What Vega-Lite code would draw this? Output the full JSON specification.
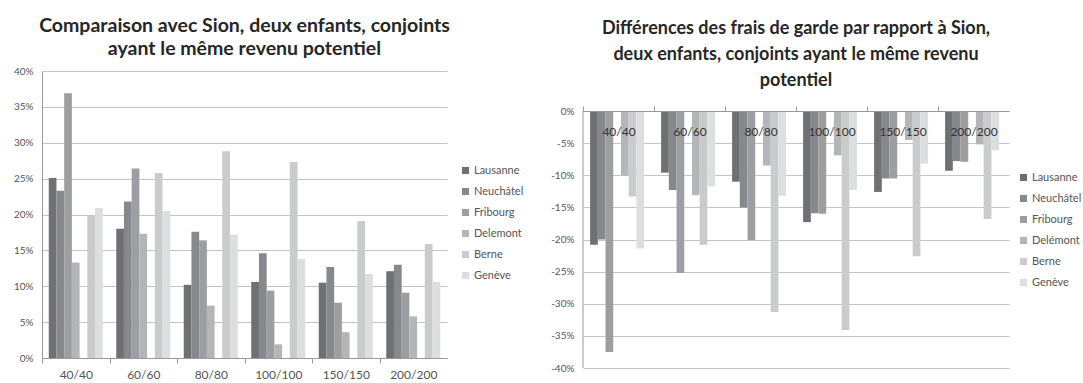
{
  "$schema": "https://vega.github.io/schema/vega-lite/v6.json",
  "background": "white",
  "padding": {"left": 5, "top": 15, "right": 0, "bottom": 0},
  "config": {
    "font": "Lato",
    "view": {"stroke": null},
    "concat": {"spacing": 19},
    "axis": {"labelFont": "Lato", "labelColor": "#555555", "domainColor": "#9a9a9a", "tickColor": "#9a9a9a", "gridColor": "#c4c4c4"},
    "legend": {"labelFont": "Lato", "labelFontSize": 11, "labelColor": "#555555", "symbolType": "square", "symbolSize": 50, "symbolStrokeWidth": 0, "rowPadding": 9, "labelOffset": 3},
    "title": {"font": "Lato", "fontWeight": "bold", "color": "#262626", "frame": "group", "anchor": "middle"}
  },
  "datasets": {
    "comparaison": [
      {"cat": "40/40", "city": "Lausanne", "v": 25.1}, {"cat": "40/40", "city": "Neuchâtel", "v": 23.3}, {"cat": "40/40", "city": "Fribourg", "v": 36.9}, {"cat": "40/40", "city": "Delemont", "v": 13.3}, {"cat": "40/40", "city": "Berne", "v": 19.8}, {"cat": "40/40", "city": "Genève", "v": 20.9},
      {"cat": "60/60", "city": "Lausanne", "v": 18.0}, {"cat": "60/60", "city": "Neuchâtel", "v": 21.8}, {"cat": "60/60", "city": "Fribourg", "v": 26.4}, {"cat": "60/60", "city": "Delemont", "v": 17.3}, {"cat": "60/60", "city": "Berne", "v": 25.8}, {"cat": "60/60", "city": "Genève", "v": 20.5},
      {"cat": "80/80", "city": "Lausanne", "v": 10.2}, {"cat": "80/80", "city": "Neuchâtel", "v": 17.6}, {"cat": "80/80", "city": "Fribourg", "v": 16.4}, {"cat": "80/80", "city": "Delemont", "v": 7.3}, {"cat": "80/80", "city": "Berne", "v": 28.8}, {"cat": "80/80", "city": "Genève", "v": 17.2},
      {"cat": "100/100", "city": "Lausanne", "v": 10.6}, {"cat": "100/100", "city": "Neuchâtel", "v": 14.6}, {"cat": "100/100", "city": "Fribourg", "v": 9.4}, {"cat": "100/100", "city": "Delemont", "v": 1.9}, {"cat": "100/100", "city": "Berne", "v": 27.3}, {"cat": "100/100", "city": "Genève", "v": 13.8},
      {"cat": "150/150", "city": "Lausanne", "v": 10.5}, {"cat": "150/150", "city": "Neuchâtel", "v": 12.7}, {"cat": "150/150", "city": "Fribourg", "v": 7.7}, {"cat": "150/150", "city": "Delemont", "v": 3.6}, {"cat": "150/150", "city": "Berne", "v": 19.1}, {"cat": "150/150", "city": "Genève", "v": 11.7},
      {"cat": "200/200", "city": "Lausanne", "v": 12.1}, {"cat": "200/200", "city": "Neuchâtel", "v": 13.0}, {"cat": "200/200", "city": "Fribourg", "v": 9.1}, {"cat": "200/200", "city": "Delemont", "v": 5.8}, {"cat": "200/200", "city": "Berne", "v": 15.9}, {"cat": "200/200", "city": "Genève", "v": 10.6}
    ],
    "differences": [
      {"cat": "40/40", "city": "Lausanne", "v": -20.8}, {"cat": "40/40", "city": "Neuchâtel", "v": -20.0}, {"cat": "40/40", "city": "Fribourg", "v": -37.5}, {"cat": "40/40", "city": "Delémont", "v": -10.0}, {"cat": "40/40", "city": "Berne", "v": -13.3}, {"cat": "40/40", "city": "Genève", "v": -21.4},
      {"cat": "60/60", "city": "Lausanne", "v": -9.6}, {"cat": "60/60", "city": "Neuchâtel", "v": -12.3}, {"cat": "60/60", "city": "Fribourg", "v": -25.2}, {"cat": "60/60", "city": "Delémont", "v": -13.1}, {"cat": "60/60", "city": "Berne", "v": -20.8}, {"cat": "60/60", "city": "Genève", "v": -11.7},
      {"cat": "80/80", "city": "Lausanne", "v": -11.0}, {"cat": "80/80", "city": "Neuchâtel", "v": -15.0}, {"cat": "80/80", "city": "Fribourg", "v": -20.1}, {"cat": "80/80", "city": "Delémont", "v": -8.5}, {"cat": "80/80", "city": "Berne", "v": -31.3}, {"cat": "80/80", "city": "Genève", "v": -13.2},
      {"cat": "100/100", "city": "Lausanne", "v": -17.3}, {"cat": "100/100", "city": "Neuchâtel", "v": -15.9}, {"cat": "100/100", "city": "Fribourg", "v": -16.0}, {"cat": "100/100", "city": "Delémont", "v": -6.9}, {"cat": "100/100", "city": "Berne", "v": -34.1}, {"cat": "100/100", "city": "Genève", "v": -12.3},
      {"cat": "150/150", "city": "Lausanne", "v": -12.6}, {"cat": "150/150", "city": "Neuchâtel", "v": -10.5}, {"cat": "150/150", "city": "Fribourg", "v": -10.5}, {"cat": "150/150", "city": "Delémont", "v": -4.5}, {"cat": "150/150", "city": "Berne", "v": -22.6}, {"cat": "150/150", "city": "Genève", "v": -8.2},
      {"cat": "200/200", "city": "Lausanne", "v": -9.3}, {"cat": "200/200", "city": "Neuchâtel", "v": -7.8}, {"cat": "200/200", "city": "Fribourg", "v": -7.9}, {"cat": "200/200", "city": "Delémont", "v": -5.2}, {"cat": "200/200", "city": "Berne", "v": -16.8}, {"cat": "200/200", "city": "Genève", "v": -6.1}
    ]
  },
  "resolve": {"scale": {"color": "independent", "x": "independent", "y": "independent"}},
  "hconcat": [
    {
      "data": {"name": "comparaison"},
      "width": 405,
      "height": 287,
      "title": {"text": ["Comparaison avec Sion, deux enfants, conjoints", "ayant le même revenu potentiel"], "fontSize": 19.5, "lineHeight": 23, "offset": 7},
      "mark": {"type": "bar"},
      "encoding": {
        "x": {"field": "cat", "type": "nominal", "sort": ["40/40", "60/60", "80/80", "100/100", "150/150", "200/200"],
          "scale": {"paddingInner": 0.2, "paddingOuter": 0.1},
          "axis": {"title": null, "labelAngle": 0, "labelFontSize": 12, "tickSize": 5, "tickOffset": -33.75, "labelOffset": 33.75, "labelPadding": 6}},
        "xOffset": {"field": "city", "type": "nominal", "sort": ["Lausanne", "Neuchâtel", "Fribourg", "Delemont", "Berne", "Genève"], "scale": {"paddingInner": 0, "paddingOuter": 0}},
        "y": {"field": "v", "type": "quantitative", "scale": {"domain": [0, 40], "nice": false},
          "axis": {"title": null, "values": [0, 5, 10, 15, 20, 25, 30, 35, 40], "labelExpr": "datum.value + '%'", "labelFontSize": 10, "ticks": false, "labelPadding": 9, "minExtent": 37, "maxExtent": 37}},
        "color": {"field": "city", "type": "nominal",
          "scale": {"domain": ["Lausanne", "Neuchâtel", "Fribourg", "Delemont", "Berne", "Genève"], "range": ["#6f7073", "#87888b", "#9d9ea1", "#b4b5b7", "#cacbcd", "#dddee0"]},
          "legend": {"title": null, "orient": "none", "legendX": 418, "legendY": 94}}
      }
    },
    {
      "width": 426,
      "height": 297,
      "title": {"text": ["Différences des frais de garde par rapport à Sion,", "deux enfants, conjoints ayant le même revenu", "potentiel"], "fontSize": 18, "lineHeight": 26, "offset": -19},
      "layer": [
        {
          "data": {"name": "differences"},
          "mark": {"type": "bar"},
          "encoding": {
            "x": {"field": "cat", "type": "nominal", "sort": ["40/40", "60/60", "80/80", "100/100", "150/150", "200/200"],
              "scale": {"paddingInner": 0.2, "paddingOuter": 0.1},
              "axis": {"title": null, "orient": "top", "offset": -40, "zindex": 1, "labelAngle": 0, "labelFontSize": 12, "labelColor": "#333333", "tickSize": 5, "tickOffset": -35.5, "labelOffset": 35.5, "labelPadding": -32}},
            "xOffset": {"field": "city", "type": "nominal", "sort": ["Lausanne", "Neuchâtel", "Fribourg", "Delémont", "Berne", "Genève"], "scale": {"paddingInner": 0, "paddingOuter": 0}},
            "y": {"field": "v", "type": "quantitative", "scale": {"domain": [-40, 6.226], "nice": false},
              "axis": {"title": null, "domain": false, "values": [-40, -35, -30, -25, -20, -15, -10, -5, 0], "labelExpr": "datum.value + '%'", "labelFontSize": 10, "ticks": false, "labelPadding": 9, "minExtent": 40, "maxExtent": 40}},
            "color": {"field": "city", "type": "nominal",
              "scale": {"domain": ["Lausanne", "Neuchâtel", "Fribourg", "Delémont", "Berne", "Genève"], "range": ["#6f7073", "#87888b", "#9d9ea1", "#b4b5b7", "#cacbcd", "#dddee0"]},
              "legend": {"title": null, "orient": "none", "legendX": 435, "legendY": 101}}
          }
        },
        {
          "data": {"values": [{"cat": "40/40", "v": 0, "v_end": -40}]},
          "mark": {"type": "rule", "color": "#9a9a9a", "strokeWidth": 1},
          "encoding": {
            "x": {"field": "cat", "type": "nominal", "sort": ["40/40", "60/60", "80/80", "100/100", "150/150", "200/200"], "bandPosition": -0.125,
              "scale": {"paddingInner": 0.2, "paddingOuter": 0.1},
              "axis": {"title": null, "orient": "top", "offset": -40, "zindex": 1, "labelAngle": 0, "labelFontSize": 12, "labelColor": "#333333", "tickSize": 5, "tickOffset": -35.5, "labelOffset": 35.5, "labelPadding": -32}},
            "y": {"field": "v", "type": "quantitative", "scale": {"domain": [-40, 6.226], "nice": false},
              "axis": {"title": null, "domain": false, "values": [-40, -35, -30, -25, -20, -15, -10, -5, 0], "labelExpr": "datum.value + '%'", "labelFontSize": 10, "ticks": false, "labelPadding": 9, "minExtent": 40, "maxExtent": 40}},
            "y2": {"field": "v_end"}
          }
        }
      ]
    }
  ]
}
